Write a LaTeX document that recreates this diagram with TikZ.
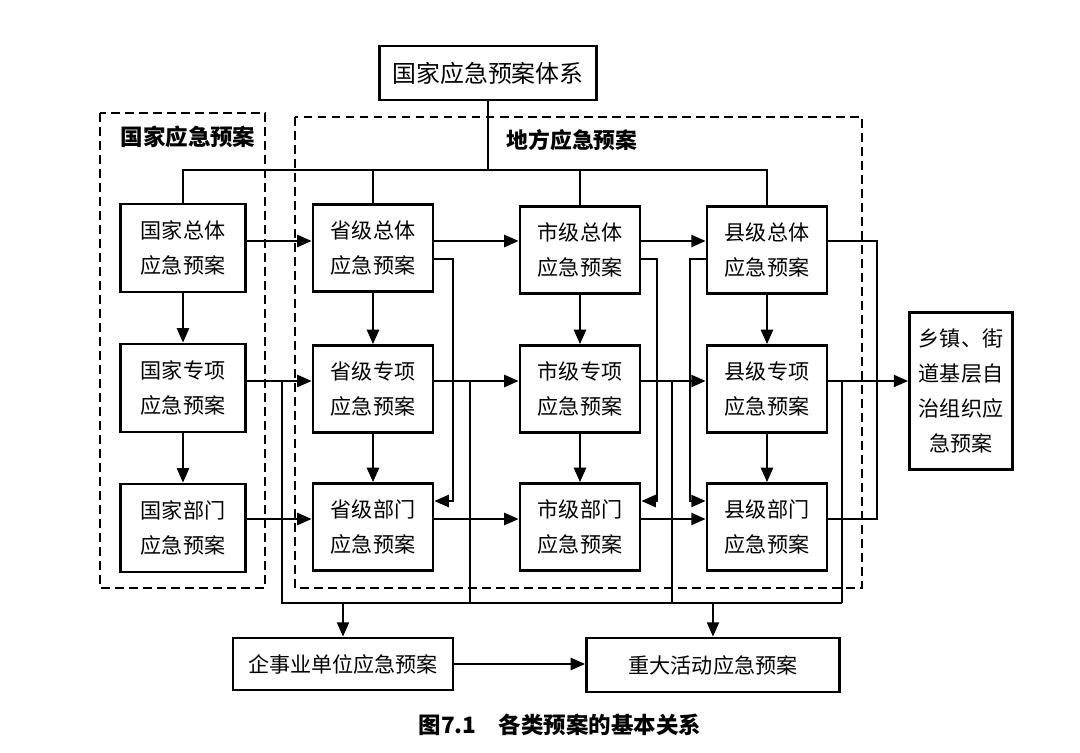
\documentclass[tikz,border=0pt]{standalone}
\usepackage{fontspec}
\setmainfont{Noto Sans CJK SC}
\usetikzlibrary{arrows.meta, positioning, calc}

\tikzset{
  plan/.style={draw, line width=1.9pt, align=center, inner sep=0pt,
    minimum width=3cm, minimum height=2.175cm,
    font=\fontsize{15}{25}\selectfont},
  arr/.style={line width=1.7pt, -{Triangle[length=0.36cm,width=0.3cm]}},
  wire/.style={line width=1.7pt},
  frame/.style={line width=1.7pt, dash pattern=on 0.22cm off 0.13cm},
  title/.style={font=\bfseries\fontsize{16}{18}\selectfont},
}

\begin{document}
\begin{tikzpicture}[x=0.025cm, y=-0.025cm]
  \useasboundingbox (0,0) rectangle (1080,753);

  % dashed groups
  \draw[frame] (100,113) rectangle (265,588);
  \draw[frame] (295,117) rectangle (862,588);
  \node[title] (natlab) at (188,137) {国家应急预案};
  \node[title, font=\bfseries\fontsize{15.5}{18}\selectfont] (loclab) at (572,140) {地方应急预案};

  % top of the system
  \node[plan, minimum width=5.425cm, minimum height=1.35cm,
    font=\fontsize{17}{20}\selectfont] (sys) at (488,73) {国家应急预案体系};

  % national column
  \node[plan, minimum width=3.125cm, minimum height=2.2cm] (nZ) at (183,248) {国家总体\\应急预案};
  \node[plan, minimum width=3.125cm, minimum height=2.2cm] (nX) at (183,388) {国家专项\\应急预案};
  \node[plan, minimum width=3.125cm, minimum height=2.2cm] (nB) at (183,528) {国家部门\\应急预案};

  % province, city, county columns
  \node[plan] (pZ) at (373,248) {省级总体\\应急预案};
  \node[plan] (pX) at (373,389) {省级专项\\应急预案};
  \node[plan] (pB) at (373,527) {省级部门\\应急预案};
  \node[plan] (cZ) at (580,250) {市级总体\\应急预案};
  \node[plan] (cX) at (580,389) {市级专项\\应急预案};
  \node[plan] (cB) at (580,527) {市级部门\\应急预案};
  \node[plan] (kZ) at (767,250) {县级总体\\应急预案};
  \node[plan] (kX) at (767,389) {县级专项\\应急预案};
  \node[plan] (kB) at (767,527) {县级部门\\应急预案};

  % town, enterprise, event
  \node[plan, minimum width=2.575cm, minimum height=3.925cm] (tw) at (961,391)
    {乡镇、街\\道基层自\\治组织应\\急预案};
  \node[plan, minimum width=5.5cm, minimum height=1.3cm] (ent) at (343,664) {企事业单位应急预案};
  \node[plan, minimum width=6.325cm, minimum height=1.35cm] (evt) at (713,665) {重大活动应急预案};

  \node[title] (cap) at (560,725) {图7.1\quad 各类预案的基本关系};

  % helper coordinates
  \coordinate (busT) at (0,170);
  \coordinate (rowA) at (0,241);
  \coordinate (rowB) at (0,381);
  \coordinate (rowC) at (0,519);
  \coordinate (loopA) at (0,259);
  \coordinate (loopC) at (0,501);
  \coordinate (busB) at (0,603);
  \coordinate (pLoop) at (453,0);
  \coordinate (cLoop) at (657,0);
  \coordinate (kLoopL) at (690,0);
  \coordinate (kLoopR) at (877,0);
  \coordinate (fN) at (282,0);
  \coordinate (fP) at (470,0);
  \coordinate (fC) at (672,0);
  \coordinate (fK) at (842,0);

  % top bus
  \draw[wire] (sys.south) -- (sys.south |- busT);
  \draw[wire] (nZ.north) |- (kZ.north |- busT) -- (kZ.north);
  \foreach \col in {p,c}
    \draw[wire] (\col Z.north) -- (\col Z.north |- busT);

  % down each column
  \foreach \col in {n,p,c,k}{
    \draw[arr] (\col Z.south) -- (\col X.north);
    \draw[arr] (\col X.south) -- (\col B.north);
  }

  % across the rows
  \foreach \col/\nxt in {n/p,p/c,c/k}{
    \draw[arr] (\col Z.east |- rowA) -- (\nxt Z.west |- rowA);
    \draw[arr] (\col X.east |- rowB) -- (\nxt X.west |- rowB);
    \draw[arr] (\col B.east |- rowC) -- (\nxt B.west |- rowC);
  }
  \draw[arr] (kX.east |- rowB) -- (tw.west |- rowB);

  % general plan to department plan
  \draw[arr] (pZ.east |- loopA) -| (pLoop |- loopC) -- (pB.east |- loopC);
  \draw[arr] (cZ.east |- loopA) -| (cLoop |- loopC) -- (cB.east |- loopC);
  \draw[arr] (kZ.west |- loopA) -| (kLoopL |- loopC) -- (kB.west |- loopC);
  \draw[wire] (kZ.east |- rowA) -| (kLoopR |- rowC) -- (kB.east |- rowC);

  % bottom bus
  \draw[wire] (fN |- rowB) |- (fK |- busB);
  \foreach \f in {fP,fC,fK}
    \draw[wire] (\f |- rowB) -- (\f |- busB);
  \draw[arr] (ent.north |- busB) -- (ent.north);
  \draw[arr] (evt.north |- busB) -- (evt.north);
  \draw[arr] (ent.east) -- (ent.east -| evt.west);
\end{tikzpicture}
\end{document}
